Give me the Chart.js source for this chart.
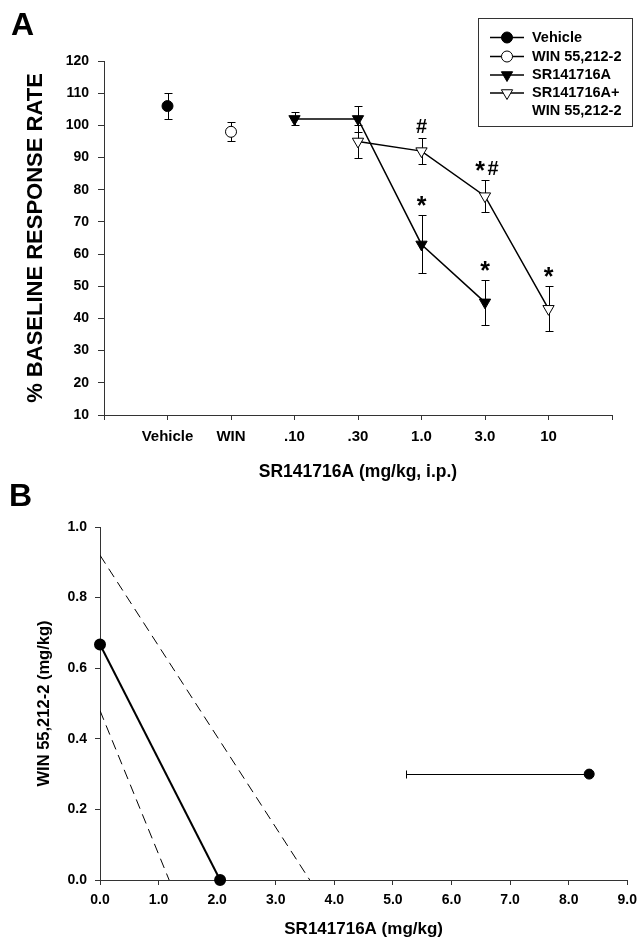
<!DOCTYPE html>
<html>
<head>
<meta charset="utf-8">
<script src="https://cdn.jsdelivr.net/npm/chart.js@4.4.0/dist/chart.umd.min.js"></script>
<style>
  body { margin: 0; background: #fff; }
  #wrap { position: relative; width: 644px; height: 941px; }
  .panel { position: absolute; left: 0; width: 644px; }
  .tag { position: absolute; font: bold 32px "Liberation Sans", Arial, sans-serif; line-height: 32px; color: #000; }
</style>
</head>
<body>
<div id="wrap">
  <div class="panel" style="top:0;height:490px"><canvas id="chartA"></canvas></div>
  <div class="panel" style="top:490px;height:451px"><canvas id="chartB"></canvas></div>
  <div class="tag" style="left:11px;top:8px">A</div>
  <div class="tag" style="left:9px;top:479px">B</div>
</div>
<script>
// Panel A: dose-response
const doseLabels = ['', 'Vehicle', 'WIN', '.10', '.30', '1.0', '3.0', '10', ''];
const vehicleRate = [null, 106, null, null, null, null, null, null, null];
const vehicleErr  = [null, 4, null, null, null, null, null, null, null];
const winRate     = [null, null, 98, null, null, null, null, null, null];
const winErr      = [null, null, 3, null, null, null, null, null, null];
const srRate      = [null, null, null, 102, 102, 63, 45, null, null];
const srErr       = [null, null, null, 2, 4, 9, 7, null, null];
const srSig       = ['', '', '', '', '', '*', '*', '', ''];
const comboRate   = [null, null, null, null, 95, 92, 78, 43, null];
const comboErr    = [null, null, null, null, 5, 4, 5, 7, null];
const comboSig    = ['', '', '', '', '', '#', '* #', '*', ''];

// Panel B: isobologram
const isoLine    = [{x: 0, y: 0.667}, {x: 2.05, y: 0}];
const ciUpper    = [{x: 0, y: 0.92}, {x: 3.58, y: 0}];
const ciLower    = [{x: 0, y: 0.48}, {x: 1.18, y: 0}];
const comboPoint = [{x: 8.35, y: 0.30}];
const comboLowX  = [5.22];

const FONT = '"Liberation Sans", Arial, sans-serif';
Chart.defaults.font.family = FONT;
Chart.defaults.color = '#000';

function marker(ctx, style, x, y, r, fill) {
  ctx.beginPath();
  if (style === 'circle') {
    ctx.arc(x, y, r, 0, Math.PI * 2);
  } else {
    // downward triangle
    ctx.moveTo(x - r * 0.866, y - r * 0.5);
    ctx.lineTo(x + r * 0.866, y - r * 0.5);
    ctx.lineTo(x, y + r);
    ctx.closePath();
  }
  ctx.fillStyle = fill;
  ctx.fill();
  ctx.strokeStyle = '#000';
  ctx.lineWidth = 1;
  ctx.stroke();
}

// one significance sign, star drawn bigger than the hash
function sign(ctx, s, x, top) {
  if (s === '*') {
    ctx.font = 'bold 25px ' + FONT;
    ctx.fillText('*', x, top - 8);
  } else {
    ctx.font = 'bold 20px ' + FONT;
    ctx.fillText('#', x, top - 11);
  }
}

const errorBars = {
  id: 'errorBars',
  beforeDatasetsDraw(chart) {
    const ctx = chart.ctx, y = chart.scales.y;
    ctx.save();
    ctx.strokeStyle = '#000';
    ctx.lineWidth = 1;
    chart.data.datasets.forEach((ds, di) => {
      if (!ds.errors) return;
      const meta = chart.getDatasetMeta(di);
      ds.data.forEach((v, i) => {
        const e = ds.errors[i];
        if (v == null || e == null) return;
        const px = Math.round(meta.data[i].x) + 0.5;
        const top = Math.round(y.getPixelForValue(v + e)) + 0.5;
        const bot = Math.round(y.getPixelForValue(v - e)) + 0.5;
        ctx.beginPath();
        ctx.moveTo(px, top); ctx.lineTo(px, bot);
        ctx.moveTo(px - 4, top); ctx.lineTo(px + 4, top);
        ctx.moveTo(px - 4, bot); ctx.lineTo(px + 4, bot);
        ctx.stroke();
      });
    });
    ctx.restore();
  },
  afterDatasetsDraw(chart) {
    const ctx = chart.ctx, y = chart.scales.y;
    ctx.save();
    ctx.fillStyle = '#000';
    ctx.textAlign = 'center';
    ctx.textBaseline = 'middle';
    chart.data.datasets.forEach((ds, di) => {
      if (!ds.sig) return;
      const meta = chart.getDatasetMeta(di);
      ds.sig.forEach((s, i) => {
        if (!s) return;
        const px = meta.data[i].x;
        const top = y.getPixelForValue(ds.data[i] + ds.errors[i]);
        const parts = s.split(' ');
        if (parts.length === 1) {
          sign(ctx, parts[0], px, top);
        } else {
          sign(ctx, parts[0], px - 5, top);
          sign(ctx, parts[1], px + 8, top);
        }
      });
    });
    ctx.restore();
  }
};

const boxLegend = {
  id: 'boxLegend',
  afterDraw(chart) {
    const ctx = chart.ctx;
    ctx.save();
    ctx.strokeStyle = '#333';
    ctx.lineWidth = 1;
    ctx.strokeRect(478.5, 18.5, 154, 108);
    const rows = [37.5, 56.5, 75, 93];
    ctx.textBaseline = 'middle';
    ctx.textAlign = 'left';
    chart.data.datasets.forEach((ds, i) => {
      const yy = rows[i];
      ctx.beginPath();
      ctx.moveTo(490, yy); ctx.lineTo(524, yy);
      ctx.strokeStyle = '#000';
      ctx.lineWidth = 1.5;
      ctx.stroke();
      marker(ctx, ds.pointStyle, 507, yy, ds.pointStyle === 'circle' ? 5.5 : 6.5, ds.pointBackgroundColor);
      ctx.fillStyle = '#000';
      ctx.font = 'bold 14.5px ' + FONT;
      const lines = ds.label.split('\n');
      lines.forEach((t, k) => ctx.fillText(t, 532, yy + k * 17.5));
    });
    ctx.restore();
  }
};

const tickFont = size => ({ family: FONT, size: size, weight: 'bold' });

new Chart(document.getElementById('chartA'), {
  type: 'line',
  data: {
    labels: doseLabels,
    datasets: [
      { label: 'Vehicle', data: vehicleRate, errors: vehicleErr, pointStyle: 'circle',
        pointRadius: 5.5, pointBackgroundColor: '#000', borderColor: '#000' },
      { label: 'WIN 55,212-2', data: winRate, errors: winErr, pointStyle: 'circle',
        pointRadius: 5.5, pointBackgroundColor: '#fff', borderColor: '#000' },
      { label: 'SR141716A', data: srRate, errors: srErr, sig: srSig, pointStyle: 'triangle',
        pointRotation: 180, pointRadius: 6.5, pointBackgroundColor: '#000', borderColor: '#000' },
      { label: 'SR141716A+\nWIN 55,212-2', data: comboRate, errors: comboErr, sig: comboSig,
        pointStyle: 'triangle', pointRotation: 180, pointRadius: 6.5,
        pointBackgroundColor: '#fff', borderColor: '#000' }
    ]
  },
  options: {
    responsive: true,
    maintainAspectRatio: false,
    animation: false,
    layout: { padding: { top: 61, right: 32, left: 0, bottom: 0 } },
    elements: {
      line: { borderWidth: 1.5, tension: 0 },
      point: { borderWidth: 1, borderColor: '#000', hoverRadius: 6.5 }
    },
    plugins: { legend: { display: false }, tooltip: { enabled: false } },
    scales: {
      x: {
        ticks: { autoSkip: false, maxRotation: 0, font: tickFont(15), padding: 8, color: '#000' },
        grid: { drawOnChartArea: false, drawTicks: true, tickLength: 5, color: '#333' },
        border: { display: true, color: '#333', width: 1 },
        title: { display: true, text: 'SR141716A (mg/kg, i.p.)', font: tickFont(17.5),
                 padding: { top: 0, bottom: 7 }, color: '#000' },
        afterFit(s) { s.height = 75; }
      },
      y: {
        min: 10, max: 120,
        ticks: { stepSize: 10, font: tickFont(14), padding: 9, color: '#000' },
        grid: { drawOnChartArea: false, drawTicks: true, tickLength: 6, color: '#333' },
        border: { display: true, color: '#333', width: 1 },
        title: { display: true, text: '% BASELINE RESPONSE RATE', font: tickFont(22),
                 padding: { top: 23, bottom: 0 }, color: '#000' },
        afterFit(s) { s.width = 104; }
      }
    }
  },
  plugins: [errorBars, boxLegend]
});

const xErrorBar = {
  id: 'xErrorBar',
  beforeDatasetsDraw(chart) {
    const ctx = chart.ctx, x = chart.scales.x, y = chart.scales.y;
    ctx.save();
    ctx.strokeStyle = '#000';
    ctx.lineWidth = 1;
    comboPoint.forEach((p, i) => {
      const py = Math.round(y.getPixelForValue(p.y)) + 0.5;
      const x0 = Math.round(x.getPixelForValue(comboLowX[i])) + 0.5;
      const x1 = x.getPixelForValue(p.x);
      ctx.beginPath();
      ctx.moveTo(x0, py); ctx.lineTo(x1, py);
      ctx.moveTo(x0, py - 4); ctx.lineTo(x0, py + 4);
      ctx.stroke();
    });
    ctx.restore();
  }
};

new Chart(document.getElementById('chartB'), {
  type: 'scatter',
  data: {
    datasets: [
      { data: isoLine, showLine: true, borderColor: '#000', borderWidth: 2,
        pointRadius: 5, pointBackgroundColor: '#000', pointBorderColor: '#000', clip: false },
      { data: ciUpper, showLine: true, borderColor: '#000', borderWidth: 1,
        borderDash: [10, 6], pointRadius: 0 },
      { data: ciLower, showLine: true, borderColor: '#000', borderWidth: 1,
        borderDash: [10, 6], pointRadius: 0 },
      { data: comboPoint, pointRadius: 5, pointBackgroundColor: '#000',
        pointBorderColor: '#000', clip: false }
    ]
  },
  options: {
    responsive: true,
    maintainAspectRatio: false,
    animation: false,
    layout: { padding: { top: 37, right: 13, left: 0, bottom: 0 } },
    plugins: { legend: { display: false }, tooltip: { enabled: false } },
    scales: {
      x: {
        type: 'linear', min: 0, max: 9,
        ticks: { stepSize: 1, font: tickFont(14), padding: 7, color: '#000',
                 callback: v => v.toFixed(1) },
        grid: { drawOnChartArea: false, drawTicks: true, tickLength: 5, color: '#333' },
        border: { display: true, color: '#333', width: 1 },
        title: { display: true, text: 'SR141716A (mg/kg)', font: tickFont(17),
                 padding: { top: 0, bottom: 1 }, color: '#000' },
        afterFit(s) { s.height = 61; }
      },
      y: {
        min: 0, max: 1,
        ticks: { stepSize: 0.2, font: tickFont(14), padding: 8, color: '#000',
                 callback: v => v.toFixed(1) },
        grid: { drawOnChartArea: false, drawTicks: true, tickLength: 5, color: '#333' },
        border: { display: true, color: '#333', width: 1 },
        title: { display: true, text: 'WIN 55,212-2 (mg/kg)', font: tickFont(16.5),
                 padding: { top: 35, bottom: 0 }, color: '#000' },
        afterFit(s) { s.width = 100; }
      }
    }
  },
  plugins: [xErrorBar]
});
</script>
</body>
</html>
